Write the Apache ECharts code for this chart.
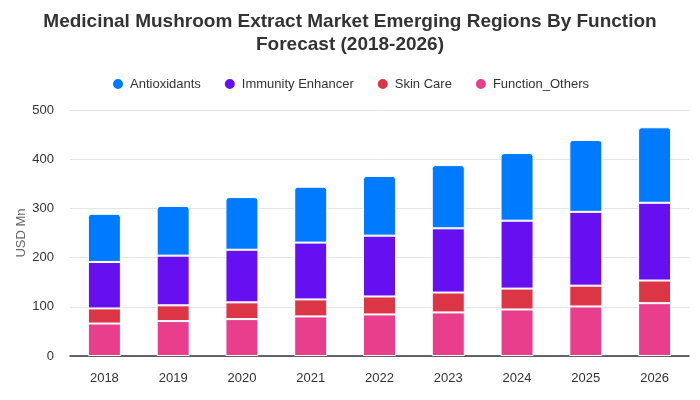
<!DOCTYPE html>
<html>
<head>
<meta charset="utf-8">
<script src="https://cdn.jsdelivr.net/npm/echarts@6/dist/echarts.min.js"></script>
<style>html,body{margin:0;padding:0;background:#fff}#c{width:700px;height:400px}</style>
</head>
<body>
<div id="c"></div>
<script>
const categories = ['2018','2019','2020','2021','2022','2023','2024','2025','2026'];
const functionOthers = [66, 71, 75, 80.5, 84.5, 88.6, 94.6, 100.7, 107.4];
const skinCare = [30.7, 32, 34, 34.5, 36.5, 40.4, 42.4, 42.3, 46];
const immunityEnhancer = [94.3, 101, 107, 115.5, 123.6, 130.5, 138, 150, 158];
const antioxidants = [98, 101, 107, 113.5, 121.4, 128.5, 137.5, 146, 153.5];
const yTicks = [0, 100, 200, 300, 400, 500];

const chart = echarts.init(document.getElementById('c'), null, {renderer: 'canvas'});
const font = 'Arial, "Liberation Sans", sans-serif';
function seg(name, data, color, top) {
  return {
    name: name, type: 'bar', stack: 'total', data: data, barWidth: '48%',
    itemStyle: {color: color, borderColor: '#fff', borderWidth: 1, borderRadius: top ? [3,3,0,0] : 0},
    emphasis: {disabled: true}
  };
}
chart.setOption({
  animation: false,
  textStyle: {fontFamily: font},
  title: {
    text: 'Medicinal Mushroom Extract Market Emerging Regions By Function\nForecast (2018-2026)',
    left: 'center', top: 5,
    textStyle: {fontSize: 19, fontWeight: 'bold', color: '#333', lineHeight: 23, fontFamily: font}
  },
  legend: {
    top: 72, left: 'center', icon: 'circle', itemWidth: 14, itemHeight: 12, itemGap: 22,
    textStyle: {fontSize: 13, color: '#333', fontFamily: font},
    data: ['Antioxidants', 'Immunity Enhancer', 'Skin Care', 'Function_Others']
  },
  grid: {left: 70, right: 11, top: 110, bottom: 44},
  xAxis: {
    type: 'category', data: categories,
    axisLine: {lineStyle: {color: '#333', width: 1.5}},
    axisTick: {show: false},
    axisLabel: {color: '#333', fontSize: 13, margin: 16, fontFamily: font}
  },
  yAxis: {
    type: 'value', min: yTicks[0], max: yTicks[yTicks.length-1], interval: 100,
    name: 'USD Mn', nameLocation: 'middle', nameGap: 42, nameMoveOverlap: false,
    nameTextStyle: {color: '#666', fontSize: 13, fontFamily: font},
    axisLine: {show: false}, axisTick: {show: false},
    axisLabel: {color: '#333', fontSize: 13, margin: 16, fontFamily: font},
    splitLine: {lineStyle: {color: '#e5e5e5', width: 1}}
  },
  series: [
    seg('Function_Others', functionOthers, '#e83e8c', false),
    seg('Skin Care', skinCare, '#dc3545', false),
    seg('Immunity Enhancer', immunityEnhancer, '#6610f2', false),
    seg('Antioxidants', antioxidants, '#007bff', true)
  ]
});
</script>
</body>
</html>
